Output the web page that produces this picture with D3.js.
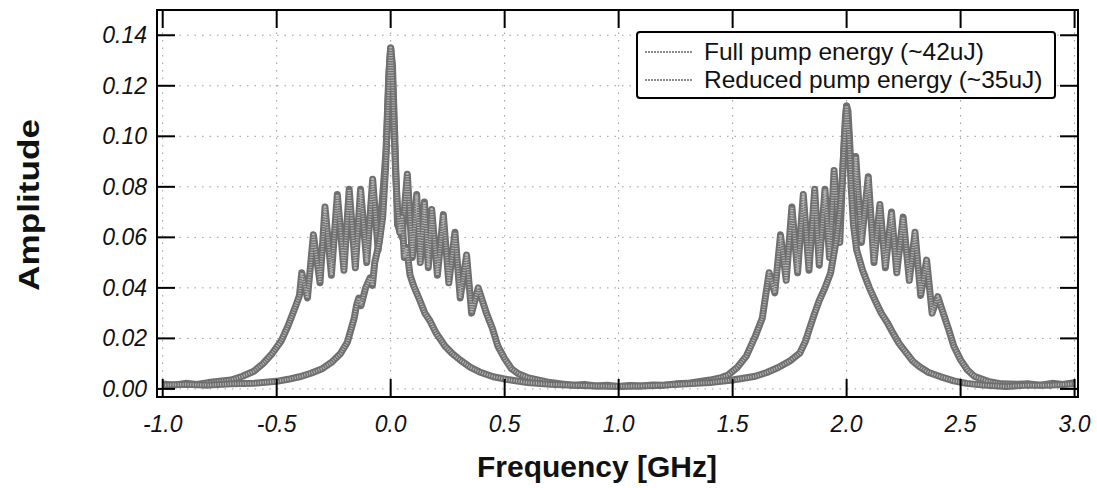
<!DOCTYPE html>
<html>
<head>
<meta charset="utf-8">
<script src="https://cdn.jsdelivr.net/npm/d3@7"></script>
<style>
    body { margin: 0; background: #fff; }
    text { font-family: "Liberation Sans", Arial, sans-serif; }
    .tick-label { font-size: 23px; font-style: italic; fill: #111; }
    .axis-title { font-size: 30px; font-weight: bold; fill: #111; }
    .legend-text { font-size: 24.5px; fill: #111; }
</style>
</head>
<body>
<div id="chart"></div>
<script>
// series: [frequency GHz, amplitude]
let fullPump = [
    [-1.00,0.0020],[-0.95,0.0015],[-0.90,0.0022],[-0.85,0.0018],[-0.80,0.0025],[-0.75,0.0030],
    [-0.70,0.0035],[-0.65,0.0050],[-0.60,0.0070],[-0.56,0.0100],[-0.52,0.0140],[-0.48,0.0190],
    [-0.45,0.0250],[-0.42,0.0320],[-0.40,0.0370],[-0.39,0.0460],[-0.365,0.0360],[-0.339,0.0610],
    [-0.31,0.0420],[-0.288,0.0720],[-0.26,0.0450],[-0.234,0.0770],[-0.205,0.0470],[-0.182,0.0790],
    [-0.155,0.0480],[-0.132,0.0790],[-0.105,0.0500],[-0.079,0.0830],[-0.055,0.0550],[-0.032,0.0800],
    [-0.020,0.0950],[-0.008,0.1250],[0.000,0.1350],[0.008,0.1280],[0.018,0.1000],[0.030,0.0650],
    [0.050,0.0600],[0.073,0.0850],[0.095,0.0520],[0.114,0.0770],[0.130,0.0500],[0.148,0.0740],
    [0.165,0.0480],[0.180,0.0710],[0.205,0.0450],[0.231,0.0690],[0.255,0.0420],[0.282,0.0620],
    [0.305,0.0360],[0.333,0.0530],[0.355,0.0300],[0.384,0.0400],[0.420,0.0300],[0.446,0.0240],
    [0.470,0.0170],[0.500,0.0120],[0.530,0.0080],[0.560,0.0060],[0.600,0.0045],[0.650,0.0035],
    [0.700,0.0025],[0.750,0.0020],[0.800,0.0015],[0.850,0.0018],[0.900,0.0012],[0.950,0.0015],
    [1.000,0.0010],[1.050,0.0014],[1.100,0.0012],[1.150,0.0016],[1.200,0.0015],[1.250,0.0020],
    [1.300,0.0022],[1.350,0.0028],[1.400,0.0035],[1.450,0.0045],[1.480,0.0055],[1.520,0.0085],
    [1.560,0.0130],[1.600,0.0210],[1.630,0.0280],[1.660,0.0460],[1.685,0.0380],[1.710,0.0610],
    [1.735,0.0430],[1.760,0.0720],[1.785,0.0460],[1.810,0.0770],[1.835,0.0470],[1.860,0.0790],
    [1.880,0.0490],[1.905,0.0790],[1.925,0.0520],[1.945,0.0865],[1.970,0.0580],[1.985,0.0900],
    [1.995,0.1080],[2.000,0.1120],[2.006,0.1100],[2.015,0.0950],[2.030,0.0700],[2.040,0.0920],
    [2.065,0.0580],[2.095,0.0840],[2.120,0.0500],[2.146,0.0730],[2.170,0.0480],[2.197,0.0700],
    [2.220,0.0460],[2.248,0.0680],[2.275,0.0430],[2.300,0.0620],[2.325,0.0370],[2.351,0.0510],
    [2.375,0.0300],[2.400,0.0365],[2.420,0.0310],[2.446,0.0240],[2.470,0.0170],[2.500,0.0115],
    [2.530,0.0075],[2.560,0.0050],[2.620,0.0030],[2.680,0.0020],[2.750,0.0018],[2.800,0.0020],
    [2.850,0.0015],[2.900,0.0022],[2.950,0.0018],[3.000,0.0025]
];

let reducedPump = [
    [-1.00,0.0015],[-0.90,0.0018],[-0.80,0.0015],[-0.70,0.0020],[-0.60,0.0022],[-0.50,0.0030],
    [-0.45,0.0038],[-0.40,0.0048],[-0.35,0.0062],[-0.30,0.0080],[-0.26,0.0105],[-0.22,0.0140],
    [-0.19,0.0185],[-0.16,0.0280],[-0.15,0.0330],[-0.14,0.0360],[-0.13,0.0330],[-0.11,0.0400],
    [-0.09,0.0440],[-0.08,0.0410],[-0.07,0.0500],[-0.05,0.0580],[-0.035,0.0680],[-0.022,0.0880],
    [-0.012,0.1120],[-0.004,0.1300],[0.000,0.1350],[0.006,0.1280],[0.014,0.1050],[0.022,0.0850],
    [0.030,0.0720],[0.040,0.0620],[0.050,0.0680],[0.060,0.0520],[0.070,0.0560],[0.085,0.0450],
    [0.100,0.0410],[0.128,0.0350],[0.150,0.0300],[0.172,0.0270],[0.200,0.0220],[0.238,0.0170],
    [0.270,0.0140],[0.304,0.0115],[0.350,0.0085],[0.390,0.0067],[0.450,0.0048],[0.520,0.0036],
    [0.600,0.0025],[0.700,0.0018],[0.800,0.0015],[0.900,0.0012],[1.000,0.0010],[1.100,0.0012],
    [1.200,0.0015],[1.300,0.0020],[1.400,0.0025],[1.500,0.0035],[1.600,0.0050],[1.650,0.0065],
    [1.700,0.0085],[1.750,0.0110],[1.795,0.0142],[1.820,0.0190],[1.840,0.0246],[1.860,0.0300],
    [1.880,0.0350],[1.905,0.0400],[1.930,0.0460],[1.955,0.0590],[1.970,0.0700],[1.980,0.0810],
    [1.990,0.0980],[2.000,0.1120],[2.010,0.1000],[2.020,0.0800],[2.030,0.0650],[2.044,0.0550],
    [2.070,0.0470],[2.100,0.0400],[2.125,0.0350],[2.152,0.0300],[2.180,0.0260],[2.204,0.0220],
    [2.230,0.0180],[2.263,0.0142],[2.290,0.0110],[2.320,0.0088],[2.360,0.0065],[2.410,0.0049],
    [2.470,0.0032],[2.526,0.0022],[2.600,0.0015],[2.700,0.0010],[2.800,0.0015],[2.900,0.0015],
    [3.000,0.0020]
];

let xTicks = [-1.0, -0.5, 0.0, 0.5, 1.0, 1.5, 2.0, 2.5, 3.0];
let yTicks = [0.00, 0.02, 0.04, 0.06, 0.08, 0.10, 0.12, 0.14];
let legendLabels = ["Full pump energy (~42uJ)", "Reduced pump energy (~35uJ)"];

const width = 1097, height = 488;
const plot = {left: 157, right: 1078, top: 10, bottom: 397};

let svg = d3.select("#chart").append("svg")
    .attr("width", width)
    .attr("height", height);

let xScale = d3.scaleLinear().domain([-1.025, 3.015]).range([plot.left, plot.right]);
let yScale = d3.scaleLinear().domain([-0.0032, 0.15]).range([plot.bottom, plot.top]);

// plain hyphen for negatives, like the original plot
let fmt = spec => d => d3.format(spec)(d).replace("\u2212", "-");

// dotted grid
let grid = svg.append("g").attr("class", "grid");
grid.selectAll(".gx").data(xTicks).enter().append("line")
    .attr("x1", d => xScale(d)).attr("x2", d => xScale(d))
    .attr("y1", plot.top).attr("y2", plot.bottom)
    .attr("stroke", "#9a9a9a").attr("stroke-width", 1).attr("stroke-dasharray", "1.5,6");
grid.selectAll(".gy").data(yTicks).enter().append("line")
    .attr("x1", plot.left).attr("x2", plot.right)
    .attr("y1", d => yScale(d)).attr("y2", d => yScale(d))
    .attr("stroke", "#9a9a9a").attr("stroke-width", 1).attr("stroke-dasharray", "1.5,6");

// traces
svg.append("clipPath").attr("id", "clip").append("rect")
    .attr("x", plot.left).attr("y", plot.top)
    .attr("width", plot.right - plot.left).attr("height", plot.bottom - plot.top);

let line = d3.line().x(d => xScale(d[0])).y(d => yScale(d[1]));
let traces = svg.append("g").attr("clip-path", "url(#clip)");

[fullPump, reducedPump].forEach(series => {
    traces.append("path").datum(series)
        .attr("d", line)
        .attr("fill", "none")
        .attr("stroke", "#6f6f6f")
        .attr("stroke-width", 7)
        .attr("stroke-linejoin", "round");
    // light speckle on top to look like the printed halftone
    traces.append("path").datum(series)
        .attr("d", line)
        .attr("fill", "none")
        .attr("stroke", "#b8b8b8")
        .attr("stroke-width", 3)
        .attr("stroke-dasharray", "1,1.5")
        .attr("stroke-linejoin", "round");
});

// legend
let legend = svg.append("g").attr("class", "legend");
legend.append("rect")
    .attr("x", 637).attr("y", 32).attr("width", 418).attr("height", 66).attr("rx", 3)
    .attr("fill", "#fff").attr("stroke", "#000").attr("stroke-width", 2);
let items = legend.selectAll(".item").data(legendLabels).enter().append("g")
    .attr("transform", (d, i) => `translate(645, ${52 + i * 28})`);
items.append("line")
    .attr("x1", 0).attr("x2", 48)
    .attr("stroke", "#8a8a8a").attr("stroke-width", 2).attr("stroke-dasharray", "2,1");
items.append("text")
    .attr("class", "legend-text")
    .attr("x", 59).attr("y", 8)
    .text(d => d);

// frame and inward ticks on all four sides
let frame = svg.append("g").attr("class", "frame");
frame.append("rect")
    .attr("x", plot.left).attr("y", plot.top)
    .attr("width", plot.right - plot.left).attr("height", plot.bottom - plot.top)
    .attr("fill", "none").attr("stroke", "#000").attr("stroke-width", 2);

let tickLen = 18;
frame.selectAll(".tb").data(xTicks).enter().append("line")
    .attr("x1", d => xScale(d)).attr("x2", d => xScale(d))
    .attr("y1", plot.bottom).attr("y2", plot.bottom - tickLen)
    .attr("stroke", "#000").attr("stroke-width", 2);
frame.selectAll(".tt").data(xTicks).enter().append("line")
    .attr("x1", d => xScale(d)).attr("x2", d => xScale(d))
    .attr("y1", plot.top).attr("y2", plot.top + tickLen)
    .attr("stroke", "#000").attr("stroke-width", 2);
frame.selectAll(".tl").data(yTicks).enter().append("line")
    .attr("x1", plot.left).attr("x2", plot.left + tickLen)
    .attr("y1", d => yScale(d)).attr("y2", d => yScale(d))
    .attr("stroke", "#000").attr("stroke-width", 2);
frame.selectAll(".tr").data(yTicks).enter().append("line")
    .attr("x1", plot.right).attr("x2", plot.right - tickLen)
    .attr("y1", d => yScale(d)).attr("y2", d => yScale(d))
    .attr("stroke", "#000").attr("stroke-width", 2);

// tick labels
svg.append("g").selectAll("text").data(xTicks).enter().append("text")
    .attr("class", "tick-label")
    .attr("x", d => xScale(d)).attr("y", 432)
    .attr("text-anchor", "middle")
    .text(fmt(".1f"));
svg.append("g").selectAll("text").data(yTicks).enter().append("text")
    .attr("class", "tick-label")
    .attr("x", 147).attr("y", d => yScale(d) + 8)
    .attr("text-anchor", "end")
    .text(fmt(".2f"));

// axis titles
svg.append("text")
    .attr("class", "axis-title")
    .attr("x", 597).attr("y", 477)
    .attr("text-anchor", "middle")
    .text("Frequency [GHz]");
svg.append("text")
    .attr("class", "axis-title")
    .attr("transform", "translate(39, 205) rotate(-90)")
    .attr("text-anchor", "middle")
    .attr("textLength", 172)
    .attr("lengthAdjust", "spacingAndGlyphs")
    .text("Amplitude");
</script>
</body>
</html>
